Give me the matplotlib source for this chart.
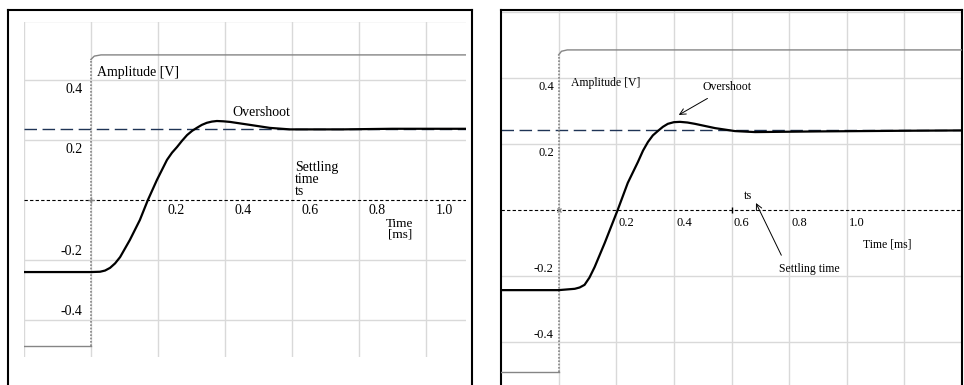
import matplotlib
matplotlib.use("Agg")
import matplotlib.pyplot as plt

plt.rcParams['font.family'] = ['Liberation Serif', 'DejaVu Serif']

# --- Left panel data (time in ms, amplitude in V) ---
left_t = [-0.2, 0.0, 0.027, 0.042, 0.057, 0.072, 0.087, 0.116, 0.146, 0.170, 0.197, 0.227,
          0.242, 0.257, 0.272, 0.287, 0.302, 0.316, 0.331, 0.346, 0.361, 0.376, 0.395,
          0.415, 0.445, 0.475, 0.534, 0.594, 0.75, 0.9, 1.12]
left_v = [-0.241, -0.241, -0.240, -0.236, -0.227, -0.212, -0.191, -0.134, -0.067, 0.0,
          0.067, 0.134, 0.158, 0.177, 0.198, 0.217, 0.231, 0.241, 0.251, 0.258, 0.262,
          0.264, 0.263, 0.261, 0.256, 0.251, 0.241, 0.236, 0.236, 0.238, 0.238]
left_step_t = [-0.2, 0.0, 0.0, 0.01, 0.03, 1.12]
left_step_v = [-0.488, -0.488, 0.47, 0.481, 0.485, 0.485]
left_setpoint = 0.238

# --- Right panel data ---
right_t = [-0.2, 0.0, 0.056, 0.073, 0.090, 0.107, 0.125, 0.160, 0.205, 0.240, 0.275,
           0.293, 0.310, 0.327, 0.344, 0.362, 0.379, 0.400, 0.421, 0.447, 0.473, 0.543,
           0.612, 0.682, 0.9, 1.2, 1.4]
right_v = [-0.243, -0.243, -0.239, -0.235, -0.227, -0.205, -0.173, -0.100, 0.0, 0.082,
           0.145, 0.180, 0.206, 0.226, 0.239, 0.252, 0.261, 0.266, 0.267, 0.265, 0.261,
           0.248, 0.239, 0.236, 0.238, 0.240, 0.241]
right_step_t = [-0.2, 0.0, 0.0, 0.01, 0.03, 1.4]
right_step_v = [-0.491, -0.491, 0.47, 0.481, 0.485, 0.485]
right_setpoint = 0.242

x_ticks = [0.2, 0.4, 0.6, 0.8, 1.0]
y_ticks = [0.4, 0.2, -0.2, -0.4]

GRID = '#d9d9d9'
STEP = '#858585'
NAVY = '#1f3456'

W, H = 964, 385
fig = plt.figure(figsize=(W / 100, H / 100), dpi=100)


def px_axes(x0, y0, x1, y1):
    # pixel box (top-left origin) -> figure axes
    return fig.add_axes([x0 / W, 1 - y1 / H, (x1 - x0) / W, (y1 - y0) / H])


def draw_signals(ax, t, v, st, sv, setpoint, xmin, xmax, vgrid, hgrid):
    for g in vgrid:
        ax.axvline(g, color=GRID, lw=1.0, zorder=0)
    for g in hgrid:
        ax.axhline(g, color=GRID, lw=1.0, zorder=0)
    ax.plot([xmin, xmax], [0, 0], color='black', lw=0.8, ls=(0, (3, 2)), zorder=2)
    ax.plot([xmin, xmax], [setpoint, setpoint], color=NAVY, lw=1.0, ls=(0, (9, 4)), zorder=2)
    # step input: horizontal parts solid, vertical edge dotted
    ax.plot(st[:2], sv[:2], color=STEP, lw=1.0, zorder=3)
    ax.plot(st[1:3], sv[1:3], color=STEP, lw=1.2, ls=(0, (1, 1)), zorder=3)
    ax.plot(st[2:], sv[2:], color=STEP, lw=1.0, zorder=3)
    ax.plot(t, v, color='black', lw=1.6, zorder=4, solid_joinstyle='round')
    ax.set_xlim(xmin, xmax)
    ax.set_xticks([])
    ax.set_yticks([])


# ---------------- Left panel ----------------
frame = px_axes(8, 10, 472, 400)
frame.set_xticks([])
frame.set_yticks([])
for s in frame.spines.values():
    s.set_linewidth(1.5)

axL = px_axes(24, 22, 466, 357)
for s in axL.spines.values():
    s.set_visible(False)
axL.patch.set_alpha(0)
draw_signals(axL, left_t, left_v, left_step_t, left_step_v, left_setpoint,
             -0.2, 1.12, [-0.2, 0.0, 0.2, 0.4, 0.6, 0.8, 1.0], [-0.4, -0.2, 0.2, 0.4, 0.6])
axL.set_ylim(-0.525, 0.595)
axL.plot([0], [0], marker='+', color=STEP, ms=4, zorder=5)

for xt in x_ticks:
    axL.annotate(f"{xt:.1f}", (xt, 0), xytext=(13, -7.5), textcoords='offset points',
                 ha='center', va='center', fontsize=10)
for yt in y_ticks:
    dy = -6.5 if yt > 0 else 5.8
    axL.annotate(f"{yt:.1f}", (0, yt), xytext=(-6, dy), textcoords='offset points',
                 ha='right', va='center', fontsize=10)

axL.text(0.018, 0.425, "Amplitude [V]", fontsize=10, ha='left', va='center')
axL.text(0.421, 0.293, "Overshoot", fontsize=10, ha='left', va='center')
axL.text(0.609, 0.068, "Settling\ntime\nts", fontsize=10, ha='left', va='center',
         linespacing=0.88)
axL.text(0.922, -0.097, "Time\n[ms]", fontsize=9.5, ha='center', va='center',
         linespacing=0.8)

# ---------------- Right panel ----------------
axR = px_axes(501, 10, 962, 400)
for s in axR.spines.values():
    s.set_linewidth(1.5)
draw_signals(axR, right_t, right_v, right_step_t, right_step_v, right_setpoint,
             -0.2, 1.40, [0.0, 0.2, 0.4, 0.6, 0.8, 1.0, 1.2, 1.4], [-0.4, -0.2, 0.2, 0.4, 0.6])
axR.set_ylim(-0.576, 0.606)
axR.plot([0], [0], marker='x', color=STEP, ms=3.5, zorder=5)
axR.plot([0.6], [0], marker='|', color='black', ms=5, zorder=5)

for xt in x_ticks:
    axR.annotate(f"{xt:.1f}", (xt, 0), xytext=(7.4, -9.4), textcoords='offset points',
                 ha='center', va='center', fontsize=9)
for yt in y_ticks:
    dy = -6.5 if yt > 0 else 5.0
    axR.annotate(f"{yt:.1f}", (0, yt), xytext=(-3.4, dy), textcoords='offset points',
                 ha='right', va='center', fontsize=9)

axR.text(0.042, 0.385, "Amplitude [V]", fontsize=8.5, ha='left', va='center')
axR.annotate("Overshoot", xy=(0.417, 0.288), xytext=(0.501, 0.373),
             fontsize=8.5, ha='left', va='center',
             arrowprops=dict(arrowstyle='->,head_length=0.5,head_width=0.25',
                             lw=0.7, color='black', shrinkA=4, shrinkB=0))
axR.text(0.657, 0.042, "ts", fontsize=9, ha='center', va='center')
axR.annotate("Settling time", xy=(0.685, 0.021), xytext=(0.765, -0.179),
             fontsize=8.5, ha='left', va='center',
             arrowprops=dict(arrowstyle='->,head_length=0.5,head_width=0.25',
                             lw=0.7, color='black', shrinkA=4, shrinkB=0,
                             relpos=(0.1, 1.0)))
axR.text(1.057, -0.106, "Time [ms]", fontsize=8.5, ha='left', va='center')

fig.savefig("out.png", dpi=100)
